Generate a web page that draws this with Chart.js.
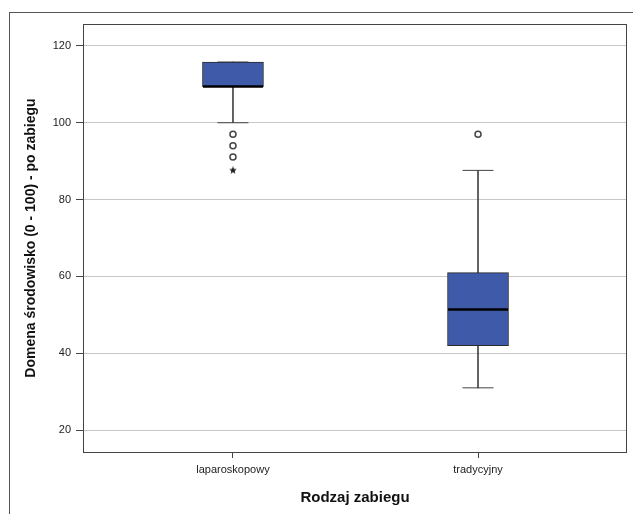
<!DOCTYPE html>
<html>
<head>
<meta charset="utf-8">
<script src="https://cdn.jsdelivr.net/npm/chart.js@4/dist/chart.umd.min.js"></script>
<style>
  body { margin: 0; background: #fff; }
  #wrap { position: relative; width: 633px; height: 514px; overflow: hidden; }
  #frame { position: absolute; left: 9px; top: 12px; width: 700px; height: 600px;
           border-left: 1px solid #555; border-top: 1px solid #555; }
  canvas { position: absolute; left: 0; top: 0; }
</style>
</head>
<body>
<div id="wrap">
  <div id="frame"></div>
  <canvas id="boxChart" width="633" height="514"></canvas>
</div>
<script>
// box plot values
const categories = ['laparoskopowy', 'tradycyjny'];
const whiskerLow = [100, 31.0];
const q1 = [109.4, 42.0];
const median = [109.4, 51.4];
const q3 = [115.8, 61.0];
const whiskerHigh = [115.8, 87.6];
const outliers = [[97.0, 94.0, 91.1], [97.0]];   // circles
const extremes = [[87.6], []];                  // stars
const yTicks = [20, 40, 60, 80, 100, 120];

const FONT = "'Liberation Sans', Arial, sans-serif";

// little filled star used as pointStyle for extreme values
function makeStar(size) {
    const c = document.createElement('canvas');
    c.width = size; c.height = size;
    const g = c.getContext('2d');
    const cx = size / 2, cy = size / 2, ro = size / 2, ri = ro * 0.45;
    g.beginPath();
    for (let i = 0; i < 10; i++) {
        const r = i % 2 ? ri : ro;
        const a = -Math.PI / 2 + i * Math.PI / 5;
        g.lineTo(cx + r * Math.cos(a), cy + r * Math.sin(a));
    }
    g.closePath();
    g.fillStyle = '#222';
    g.fill();
    return c;
}

const idx = categories.map((c, i) => i);

// no automatic label padding, the plot area is fixed by layout padding + afterFit
function noPad(s) { s.paddingLeft = 0; s.paddingRight = 0; s.paddingTop = 0; s.paddingBottom = 0; }

const plotFrame = {
    id: 'plotFrame',
    afterDraw(chart) {
        const { ctx, chartArea: a } = chart;
        ctx.save();
        ctx.strokeStyle = '#444';
        ctx.lineWidth = 1;
        ctx.strokeRect(Math.round(a.left) + 0.5, Math.round(a.top) + 0.5,
                       Math.round(a.right - a.left) - 1, Math.round(a.bottom - a.top));
        ctx.restore();
    }
};

const data = {
    datasets: [
        {   // lower whiskers
            type: 'bar', order: 5, grouped: false, barThickness: 1,
            backgroundColor: '#444', borderWidth: 0,
            data: idx.map(i => ({ x: i, y: [whiskerLow[i], q1[i]] }))
        },
        {   // upper whiskers
            type: 'bar', order: 5, grouped: false, barThickness: 1,
            backgroundColor: '#444', borderWidth: 0,
            data: idx.map(i => ({ x: i, y: [q3[i], whiskerHigh[i]] }))
        },
        {   // whisker caps
            type: 'line', order: 4, showLine: false,
            pointStyle: 'line', pointRadius: 15.5, borderColor: '#444', borderWidth: 1,
            data: idx.flatMap(i => [{ x: i, y: whiskerLow[i] }, { x: i, y: whiskerHigh[i] }])
        },
        {   // boxes
            type: 'bar', order: 3, grouped: false, barThickness: 61,
            backgroundColor: '#3f5aa9', borderColor: '#2a2a2a', borderWidth: 1, borderSkipped: false,
            data: idx.map(i => ({ x: i, y: [q1[i], q3[i]] }))
        },
        {   // medians
            type: 'line', order: 2, showLine: false,
            pointStyle: 'line', pointRadius: 30, borderColor: '#000', borderWidth: 2.5,
            data: idx.map(i => ({ x: i, y: median[i] }))
        },
        {   // outliers
            type: 'line', order: 1, showLine: false,
            pointStyle: 'circle', pointRadius: 3, backgroundColor: '#fff', borderColor: '#444', borderWidth: 1.5,
            data: idx.flatMap(i => outliers[i].map(v => ({ x: i, y: v })))
        },
        {   // extremes
            type: 'line', order: 1, showLine: false,
            pointStyle: makeStar(8), pointRadius: 4,
            data: idx.flatMap(i => extremes[i].map(v => ({ x: i, y: v })))
        }
    ]
};

const options = {
    responsive: false, animation: false, events: [],
    layout: { autoPadding: false, padding: { top: 24, right: 6, left: 0, bottom: 0 } },
    plugins: { legend: { display: false }, tooltip: { enabled: false }, title: { display: false } },
    scales: {
        x: {
            type: 'linear', min: -0.612, max: 1.608, offset: false,
            afterBuildTicks: s => { s.ticks = idx.map(v => ({ value: v })); },
            afterFit: s => { s.height = 62; noPad(s); },
            border: { display: false },
            grid: { offset: false, drawOnChartArea: false, drawTicks: true, tickLength: 6, tickColor: '#444' },
            ticks: { color: '#222', font: { family: FONT, size: 11 }, padding: 5, maxRotation: 0,
                     callback: v => categories[v] },
            title: { display: true, text: 'Rodzaj zabiegu', color: '#111',
                     font: { family: FONT, size: 15, weight: 'bold' }, padding: { top: 0, bottom: 7 } }
        },
        y: {
            type: 'linear', min: 14.3, max: 125.7,
            afterBuildTicks: s => { s.ticks = yTicks.map(v => ({ value: v })); },
            afterFit: s => { s.width = 83; noPad(s); },
            border: { display: false },
            grid: { color: '#c8c8c8', lineWidth: 1, drawTicks: true, tickLength: 7, tickColor: '#444' },
            ticks: { color: '#222', font: { family: FONT, size: 11 }, padding: 5 },
            title: { display: true, text: 'Domena środowisko (0 - 100) - po zabiegu', color: '#111',
                     font: { family: FONT, size: 14, weight: 'bold' }, padding: { top: 23, bottom: 0 } }
        }
    }
};

new Chart(document.getElementById('boxChart'), { type: 'bar', data: data, options: options, plugins: [plotFrame] });
</script>
</body>
</html>
